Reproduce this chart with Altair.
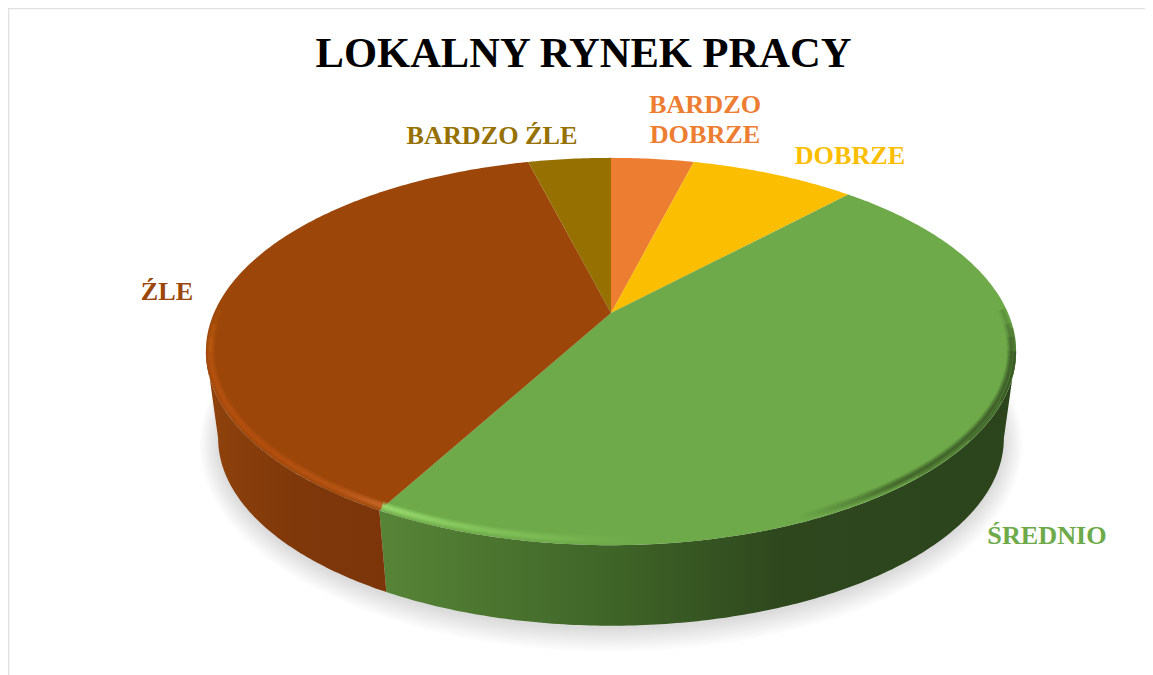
import numpy as np
import pandas as pd
import altair as alt

W, H = 1137, 667
OX, OY = 8, 8  # page margin

TITLE = "LOKALNY RYNEK PRACY"
LABELS = ["BARDZO DOBRZE", "DOBRZE", "ŚREDNIO", "ŹLE", "BARDZO ŹLE"]
SHARES = [4, 8, 46, 38, 4]
COLORS = ["#ED7D31", "#FCBE00", "#6EAA49", "#9C460A", "#967000"]
LABEL_LINES = [["BARDZO", "DOBRZE"], ["DOBRZE"], ["ŚREDNIO"], ["ŹLE"], ["BARDZO ŹLE"]]
LABEL_X = [705, 850, 1047, 167, 492]
LABEL_Y = [120, 156, 536, 292, 136]
TITLE_Y = 54

# perspective view of the round pie
CX, CY, RX, RY, K = 611, 313, 397, 186, 0.199
LOW_CY, LOW_RX, LOW_RY = 401, 385, 180


def pt(a, cy=CY, rx=RX, ry=RY, cx=CX):
    u, v = np.sin(a), -np.cos(a)
    d = 1 - K * v
    return cx + rx * u / d, cy + ry * v / d


def arc(a0, a1, **kw):
    n = max(2, int(abs(a1 - a0) * 90))
    t = np.linspace(a0, a1, n)
    return pt(t, **kw)


cum = np.cumsum([0] + SHARES) / sum(SHARES) * 2 * np.pi
X = alt.X("x:Q", scale=alt.Scale(domain=[0, W], range=[0, W], nice=False), axis=None)
Y = alt.Y("y:Q", scale=alt.Scale(domain=[0, H], range=[0, H], nice=False), axis=None)
ENC = dict(x=X, y=Y, order="i:Q")


def frame(xs, ys):
    return pd.DataFrame({"x": np.asarray(xs) - OX, "y": np.asarray(ys) - OY,
                         "i": np.arange(len(xs))})


def poly(xs, ys, fill, opacity=1.0):
    return alt.Chart(frame(xs, ys)).mark_line(
        interpolate="linear-closed", fill=fill, fillOpacity=opacity,
        strokeOpacity=0, clip=False).encode(**ENC)


def path(xs, ys, stroke, width, opacity=1.0):
    return alt.Chart(frame(xs, ys)).mark_line(
        stroke=stroke, strokeWidth=width, opacity=opacity, strokeCap="butt").encode(**ENC)


def grad(stops):
    return alt.Gradient(gradient="linear", x1=0, x2=1, y1=0, y2=0,
                        stops=[alt.GradientStop(offset=o, color=c) for o, c in stops])


layers = []

# shadow under the pie
for g in range(9):
    xs, ys = arc(0, 2 * np.pi, cy=LOW_CY + 3, rx=LOW_RX + 18 - g * 2.2, ry=LOW_RY + 18 - g * 2.2)
    layers.append(poly(xs, ys, "#000000", 0.016))

# outer walls: silhouette begins where the rim is widest
a_r = np.arccos(-K)  # right extreme
a_l = 2 * np.pi - a_r
split = cum[3]


def wall(a0, a1, fill):
    ux, uy = arc(a0, a1)
    lx, ly = arc(a1, a0, cy=LOW_CY, rx=LOW_RX, ry=LOW_RY)
    return poly(np.r_[ux, lx], np.r_[uy, ly], fill)


layers.append(wall(a_r, split, grad([(0, "#578537"), (0.38, "#3E6327"), (0.64, "#2E471D"),
                                     (1, "#2C441C")])))
layers.append(wall(split, a_l, grad([(0, "#8F430D"), (0.5, "#7F380A"), (1, "#7B3509")])))

# top face
for i, c in enumerate(COLORS):
    ax, ay = arc(cum[i], cum[i + 1])
    layers.append(poly(np.r_[CX, ax], np.r_[CY, ay], c))

# bevel on the front rim
INSET = 4.5
WIDTHS = [(9, 0.3), (6, 0.45), (3, 0.7)]
gx, gy = arc(a_r, split, rx=RX - INSET, ry=RY - INSET)
for w, op in WIDTHS:
    layers.append(path(gx, gy, grad([(0, "#9BDD70"), (0.15, "#85C65D"), (0.4, "#6EAA49"),
                                     (0.66, "#6EAA49"), (0.82, "#3F6128"), (1, "#3A5A26")]), w, op))
bx, by = arc(split, a_l, rx=RX - INSET, ry=RY - INSET)
for w, op in WIDTHS:
    layers.append(path(bx, by, grad([(0, "#B65210"), (0.3, "#B44F0E"), (0.75, "#B85514"),
                                     (1, "#C8682A")]), w, op))
# bevel tails fading past the widest points
for s, (f0, f1, fade) in enumerate([(0, 0.07, 0.7), (0.07, 0.14, 0.45), (0.14, 0.22, 0.2)]):
    for w, op in WIDTHS:
        tx, ty = arc(a_l + f0, a_l + f1, rx=RX - INSET, ry=RY - INSET)
        layers.append(path(tx, ty, "#C0600F", w, op * fade))
        tx, ty = arc(a_r - f0, a_r - f1, rx=RX - INSET, ry=RY - INSET)
        layers.append(path(tx, ty, "#3A5A26", w, op * fade))
# dark outer lip of the green rim on the shaded side
for f0, f1, fade in [(-0.12, 0, 0.3), (0, 0.25, 0.7), (0.25, 0.45, 0.45), (0.45, 0.65, 0.2)]:
    lx, ly = arc(a_r + f0, a_r + f1, rx=RX - 1.2, ry=RY - 1.2)
    layers.append(path(lx, ly, "#2C441C", 2.4, fade))

# slice labels
rows = []
for lines, lx, ly, c in zip(LABEL_LINES, LABEL_X, LABEL_Y, COLORS):
    for j, t in enumerate(lines):
        rows.append({"x": lx - OX, "y": ly - OY + j * 29.5 - (0 if len(lines) == 1 else 15),
                     "t": t, "c": c})
layers.append(alt.Chart(pd.DataFrame(rows)).mark_text(
    font="Liberation Serif", fontWeight="bold", fontSize=26.2, align="center", baseline="middle"
).encode(x=X, y=Y, text="t:N", color=alt.Color("c:N", scale=None)))

# title
layers.append(alt.Chart(pd.DataFrame({"x": [583.5 - OX], "y": [TITLE_Y - OY], "t": [TITLE]})).mark_text(
    font="Liberation Serif", fontWeight="bold", fontSize=42.55, align="center", baseline="middle",
    color="#000000").encode(x=X, y=Y, text="t:N"))

# chart frame
layers.append(alt.Chart(pd.DataFrame({"x": [0.5], "y": [0], "y2": [H]})).mark_rule(
    color="#E0E0E0", strokeWidth=1.6).encode(x=X, y=Y, y2="y2:Q"))
layers.append(alt.Chart(pd.DataFrame({"x": [0], "x2": [W], "y": [0.5]})).mark_rule(
    color="#E0E0E0", strokeWidth=1.6).encode(x=X, x2="x2:Q", y=Y))

chart = alt.layer(*layers).properties(width=W, height=H, padding=0, background="#FFFFFF",
                                       view=alt.ViewConfig(stroke=None), autosize=alt.AutoSizeParams(type="none"))
chart.save("out.html", embed_options={"renderer": "svg", "actions": False})
